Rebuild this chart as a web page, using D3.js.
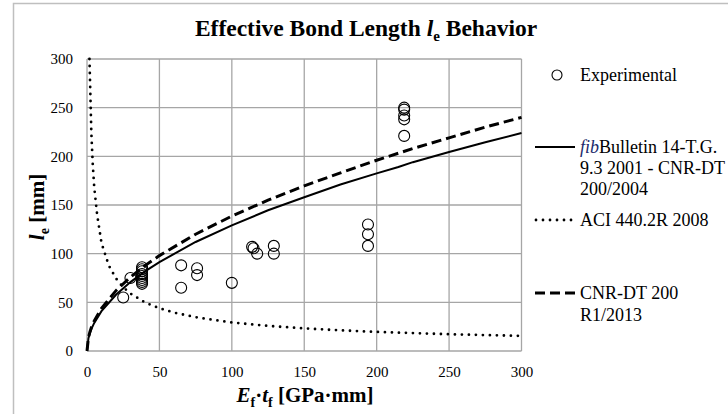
<!DOCTYPE html>
<html>
<head>
<meta charset="utf-8">
<script src="https://cdn.jsdelivr.net/npm/d3@7"></script>
<style>
  body { margin: 0; background: #fff; }
  text { font-family: "Liberation Serif", "Times New Roman", serif; fill: #000; }
  .tick-label { font-size: 15px; }
  .legend-label { font-size: 18px; }
</style>
</head>
<body>
<div id="chart"></div>
<script>
// values

// experimental points (Ef*tf in GPa*mm, le in mm)
const expX = [25, 30, 38, 38, 38, 38, 38, 38, 38, 38, 38, 65, 65, 76, 76, 100, 114, 115, 117.5, 129, 129, 194, 194, 194, 219, 219, 219, 219, 219]
const expY = [55, 75, 86, 84, 82, 79, 77, 75, 73, 71, 69, 88, 65, 85, 78, 70, 107, 105.5, 100, 108, 100, 130, 120, 108, 250, 248, 242, 238, 221]

// fib Bulletin 14 - T.G. 9.3 2001 - CNR-DT 200/2004 (solid)
const fibX = [0, 1, 2, 3, 5, 10, 20, 30, 40, 50, 75, 100, 125, 150, 175, 200, 215, 225, 250, 275, 300]
const fibY = [0, 13, 18.3, 22.4, 28.9, 40.9, 57.8, 70.8, 81.8, 91.4, 112, 129, 144.6, 158, 171, 182.5, 189, 194, 204.5, 214.5, 224]

// ACI 440.2R 2008 (dotted)
const aciX = [1.7, 2, 3, 4, 5, 7, 10, 15, 20, 25, 30, 40, 50, 60, 75, 100, 125, 150, 175, 200, 250, 300]
const aciY = [300, 283, 224, 191, 168, 140, 111, 88, 74.6, 65.5, 59, 49.9, 43.9, 39.5, 34.7, 29.3, 25.8, 23.2, 21.2, 19.6, 17.2, 15.5]

// CNR-DT 200 R1/2013 (dashed)
const cnrX = [0, 1, 2, 3, 5, 10, 20, 30, 40, 50, 75, 100, 125, 150, 175, 200, 225, 250, 275, 300]
const cnrY = [0, 13.9, 19.6, 24, 31, 43.8, 62, 75.9, 87.7, 98, 120, 138.6, 155, 169.7, 183, 196, 208, 219, 230, 240]

const xTicks = [0, 50, 100, 150, 200, 250, 300]
const yTicks = [0, 50, 100, 150, 200, 250, 300]

const zip = (xs, ys) => xs.map((x, i) => ({x, y: ys[i]}))

function drawChart() {
  const width = 728
  const height = 414
  const plot = {left: 87, right: 521.5, top: 59, bottom: 351}
  const gridColor = "#a6a6a6"

  const svg = d3.select("#chart")
    .append("svg")
      .attr("width", width)
      .attr("height", height)

  // outer chart frame (cut by the picture edges)
  svg.append("rect")
    .attr("x", 13.5)
    .attr("y", 3.5)
    .attr("width", 800)
    .attr("height", 600)
    .attr("fill", "none")
    .attr("stroke", "#bfbfbf")
    .attr("stroke-width", 1.5)

  const xScale = d3.scaleLinear()
    .domain([0, 300])
    .range([plot.left, plot.right])
  const yScale = d3.scaleLinear()
    .domain([0, 300])
    .range([plot.bottom, plot.top])

  // grid
  const grid = svg.append("g")
  grid.selectAll(".vgrid")
    .data(xTicks)
    .join("line")
      .attr("x1", d => xScale(d))
      .attr("x2", d => xScale(d))
      .attr("y1", plot.top)
      .attr("y2", plot.bottom)
      .attr("stroke", gridColor)
      .attr("stroke-width", 1.3)
  grid.selectAll(".hgrid")
    .data(yTicks)
    .join("line")
      .attr("x1", plot.left)
      .attr("x2", plot.right)
      .attr("y1", d => yScale(d))
      .attr("y2", d => yScale(d))
      .attr("stroke", gridColor)
      .attr("stroke-width", 1.3)

  // axes (labels only, lines come from the grid)
  const xAxis = svg.append("g")
    .attr("transform", `translate(0, ${plot.bottom})`)
    .call(d3.axisBottom(xScale).tickValues(xTicks).tickSize(0).tickPadding(12))
  const yAxis = svg.append("g")
    .attr("transform", `translate(${plot.left}, 0)`)
    .call(d3.axisLeft(yScale).tickValues(yTicks).tickSize(0).tickPadding(14))
  ;[xAxis, yAxis].forEach(a => {
    a.select(".domain").remove()
    a.selectAll("text")
      .attr("class", "tick-label")
      .attr("fill", "#000")
      .style("font-family", "'Liberation Serif', 'Times New Roman', serif")
  })
  xAxis.selectAll("text").attr("dy", "0.95em")

  // lines
  const line = d3.line()
    .x(d => xScale(d.x))
    .y(d => yScale(d.y))

  svg.append("path")
    .attr("d", line(zip(aciX, aciY)))
    .attr("fill", "none")
    .attr("stroke", "#000")
    .attr("stroke-width", 2.8)
    .attr("stroke-linecap", "round")
    .attr("stroke-dasharray", "0 7")

  svg.append("path")
    .attr("d", line(zip(fibX, fibY)))
    .attr("fill", "none")
    .attr("stroke", "#000")
    .attr("stroke-width", 2)

  svg.append("path")
    .attr("d", line(zip(cnrX, cnrY)))
    .attr("fill", "none")
    .attr("stroke", "#000")
    .attr("stroke-width", 3)
    .attr("stroke-dasharray", "10 5")

  // experimental points
  svg.append("g")
    .selectAll("circle")
    .data(zip(expX, expY))
    .join("circle")
      .attr("cx", d => xScale(d.x))
      .attr("cy", d => yScale(d.y))
      .attr("r", 5.5)
      .attr("fill", "none")
      .attr("stroke", "#000")
      .attr("stroke-width", 1.1)

  // title
  const title = svg.append("text")
    .attr("x", 366)
    .attr("y", 36)
    .attr("text-anchor", "middle")
    .style("font-size", "23.5px")
    .style("font-weight", "bold")
  title.append("tspan").text("Effective Bond Length ")
  title.append("tspan").style("font-style", "italic").text("l")
  title.append("tspan").attr("dy", 5).style("font-size", "15px").text("e")
  title.append("tspan").attr("dy", -5).text(" Behavior")

  // y axis title
  const yTitle = svg.append("text")
    .attr("transform", `translate(44, 207) rotate(-90)`)
    .attr("text-anchor", "middle")
    .style("font-size", "21px")
    .style("font-weight", "bold")
  yTitle.append("tspan").style("font-style", "italic").text("l")
  yTitle.append("tspan").attr("dy", 5).style("font-size", "14px").text("e")
  yTitle.append("tspan").attr("dy", -5).text(" [mm]")

  // x axis title
  const xTitle = svg.append("text")
    .attr("x", 305)
    .attr("y", 402)
    .attr("text-anchor", "middle")
    .style("font-size", "21px")
    .style("font-weight", "bold")
  xTitle.append("tspan").style("font-style", "italic").text("E")
  xTitle.append("tspan").attr("dy", 5).style("font-size", "14px").text("f")
  xTitle.append("tspan").attr("dy", -5).text("·")
  xTitle.append("tspan").style("font-style", "italic").text("t")
  xTitle.append("tspan").attr("dy", 5).style("font-size", "14px").text("f")
  xTitle.append("tspan").attr("dy", -5).text(" [GPa·mm]")

  // legend
  const legend = svg.append("g")
  const textX = 580

  legend.append("circle")
    .attr("cx", 557)
    .attr("cy", 75)
    .attr("r", 5)
    .attr("fill", "none")
    .attr("stroke", "#000")
    .attr("stroke-width", 1.1)
  legend.append("text")
    .attr("class", "legend-label")
    .attr("x", textX)
    .attr("y", 81)
    .text("Experimental")

  legend.append("line")
    .attr("x1", 535).attr("x2", 575)
    .attr("y1", 147).attr("y2", 147)
    .attr("stroke", "#000")
    .attr("stroke-width", 2)
  const fibLabel = legend.append("text")
    .attr("class", "legend-label")
    .attr("x", textX)
    .attr("y", 153)
  fibLabel.append("tspan").style("font-style", "italic").style("fill", "#1c2a6b").text("fib")
  fibLabel.append("tspan").text("Bulletin 14-T.G.")
  legend.append("text")
    .attr("class", "legend-label")
    .attr("x", textX)
    .attr("y", 174)
    .text("9.3 2001 - CNR-DT")
  legend.append("text")
    .attr("class", "legend-label")
    .attr("x", textX)
    .attr("y", 195)
    .text("200/2004")

  legend.append("line")
    .attr("x1", 536).attr("x2", 576)
    .attr("y1", 220).attr("y2", 220)
    .attr("stroke", "#000")
    .attr("stroke-width", 2.8)
    .attr("stroke-linecap", "round")
    .attr("stroke-dasharray", "0 7")
  legend.append("text")
    .attr("class", "legend-label")
    .attr("x", textX)
    .attr("y", 226)
    .text("ACI 440.2R 2008")

  legend.append("line")
    .attr("x1", 535).attr("x2", 575)
    .attr("y1", 293).attr("y2", 293)
    .attr("stroke", "#000")
    .attr("stroke-width", 3)
    .attr("stroke-dasharray", "10 5")
  legend.append("text")
    .attr("class", "legend-label")
    .attr("x", textX)
    .attr("y", 299)
    .text("CNR-DT 200")
  legend.append("text")
    .attr("class", "legend-label")
    .attr("x", textX)
    .attr("y", 321)
    .text("R1/2013")
}

drawChart()
</script>
</body>
</html>
